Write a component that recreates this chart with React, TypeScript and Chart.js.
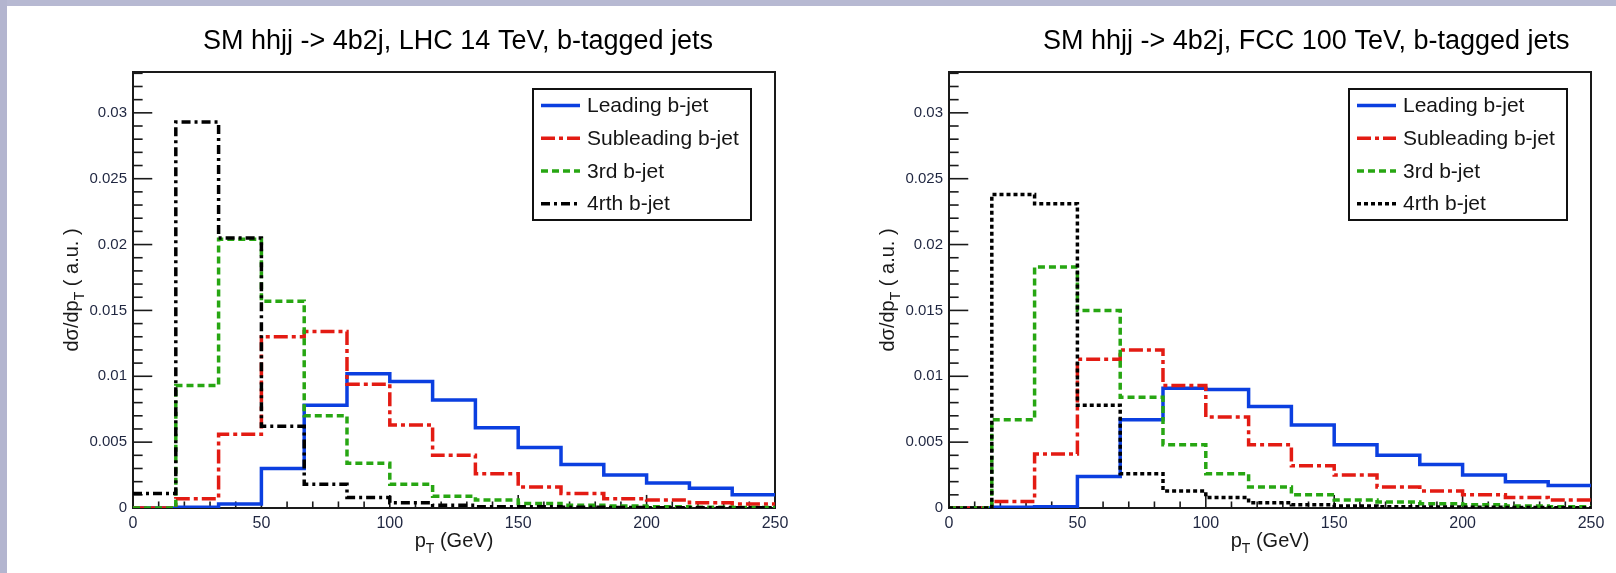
import React, { useEffect, useRef } from "react";
import { Chart, registerables } from "chart.js";
Chart.register(...registerables);

// ---------------- data ----------------
const binEdges = [0, 16.67, 33.33, 50, 66.67, 83.33, 100, 116.67, 133.33, 150, 166.67, 183.33, 200, 216.67, 233.33, 250];
const xTickValues = [0, 50, 100, 150, 200, 250];
const xTickLabels = ["0", "50", "100", "150", "200", "250"];
const yTickValues = [0, 0.005, 0.01, 0.015, 0.02, 0.025, 0.03];
const yTickLabels = ["0", "0.005", "0.01", "0.015", "0.02", "0.025", "0.03"];
const seriesLabels = ["Leading b-jet", "Subleading b-jet", "3rd b-jet", "4rth b-jet"];

const lhcTitle = "SM hhjj -> 4b2j, LHC 14 TeV, b-tagged jets";
const fccTitle = "SM hhjj -> 4b2j, FCC 100 TeV, b-tagged jets";

const lhcLeading = [0, 0.00005, 0.0003, 0.0030, 0.0078, 0.0102, 0.0096, 0.0082, 0.0061, 0.0046, 0.0033, 0.0025, 0.0019, 0.0015, 0.0010];
const lhcSubleading = [0, 0.0007, 0.0056, 0.0130, 0.0134, 0.0094, 0.0063, 0.0040, 0.0026, 0.0016, 0.0011, 0.0007, 0.0006, 0.0004, 0.0003];
const lhcThird = [0, 0.0093, 0.0204, 0.0157, 0.0070, 0.0034, 0.0018, 0.0009, 0.0006, 0.00035, 0.0002, 0.00015, 0.0001, 0.00005, 0.00003];
const lhcFourth = [0.0011, 0.0293, 0.0205, 0.0062, 0.0018, 0.0008, 0.0004, 0.0002, 0.0001, 0.0001, 0.00005, 0.00003, 0.00002, 0.00001, 0.00001];

const fccLeading = [0, 0.00005, 0.0001, 0.0024, 0.0067, 0.0091, 0.0090, 0.0077, 0.0063, 0.0048, 0.0040, 0.0033, 0.0025, 0.0020, 0.0017];
const fccSubleading = [0, 0.0005, 0.0041, 0.0113, 0.0120, 0.0093, 0.0069, 0.0048, 0.0032, 0.0025, 0.0016, 0.0013, 0.0010, 0.0008, 0.0006];
const fccThird = [0, 0.0067, 0.0183, 0.0150, 0.0084, 0.0048, 0.0026, 0.0016, 0.0010, 0.0006, 0.00046, 0.00033, 0.00025, 0.00015, 0.0001];
const fccFourth = [0, 0.0238, 0.0231, 0.0078, 0.0026, 0.0013, 0.0008, 0.0004, 0.00025, 0.00015, 0.0001, 0.00008, 0.00005, 0.00003, 0.00002];

// ---------------- style ----------------
const FONT = '"Liberation Sans", Arial, Helvetica, sans-serif';
const colors = ["#0b3fe0", "#e31b13", "#27a612", "#000000"];
const TICK_COLOR = "#1f2640";

function toSteps(values: number[]) {
  return binEdges.map((x, i) => ({ x, y: values[Math.min(i, values.length - 1)] }));
}

type Part = { t: string; sub?: boolean };

function drawParts(ctx: CanvasRenderingContext2D, parts: Part[], size: number, cx: number, baseY: number) {
  const widths = parts.map((p) => {
    ctx.font = `${p.sub ? Math.round(size * 0.7) : size}px ${FONT}`;
    return ctx.measureText(p.t).width;
  });
  const total = widths.reduce((a, b) => a + b, 0);
  let x = cx - total / 2;
  parts.forEach((p, i) => {
    ctx.font = `${p.sub ? Math.round(size * 0.7) : size}px ${FONT}`;
    ctx.fillText(p.t, x, p.sub ? baseY + size * 0.32 : baseY);
    x += widths[i];
  });
}

const rootPlugin = {
  id: "rootStyle",
  beforeDatasetsDraw(chart: any) {
    const { ctx, chartArea: a, scales } = chart;
    const xs = scales.x;
    const ys = scales.y;
    ctx.save();
    ctx.strokeStyle = "#1a1a1a";
    ctx.lineWidth = 1.6;
    const xMajor = 0.03 * (a.bottom - a.top);
    for (let v = 0; v <= 250; v += 10) {
      const px = xs.getPixelForValue(v);
      const len = v % 50 === 0 ? xMajor : xMajor / 2;
      ctx.beginPath();
      ctx.moveTo(px, a.bottom);
      ctx.lineTo(px, a.bottom - len);
      ctx.stroke();
    }
    const yMajor = 0.03 * (a.right - a.left);
    for (let k = 0; k <= 40; k++) {
      const py = ys.getPixelForValue(k * 0.001);
      if (py < a.top) break;
      const len = k % 5 === 0 ? yMajor : yMajor / 2;
      ctx.beginPath();
      ctx.moveTo(a.left, py);
      ctx.lineTo(a.left + len, py);
      ctx.stroke();
    }
    ctx.lineWidth = 2;
    ctx.strokeRect(a.left, a.top, a.right - a.left, a.bottom - a.top);
    ctx.restore();
  },
  afterDatasetsDraw(chart: any, _args: any, opts: any) {
    const { ctx, chartArea: a } = chart;
    const bx = a.left + 400;
    const by = a.top + 17;
    const bw = 218;
    const bh = opts.legendH;
    ctx.save();
    ctx.fillStyle = "#ffffff";
    ctx.fillRect(bx, by, bw, bh);
    ctx.strokeStyle = "#111";
    ctx.lineWidth = 2;
    ctx.strokeRect(bx, by, bw, bh);
    const ds = chart.data.datasets;
    const rowH = bh / ds.length;
    ds.forEach((d: any, i: number) => {
      const cy = by + rowH * (i + 0.5);
      ctx.strokeStyle = d.borderColor;
      ctx.lineWidth = d.borderWidth;
      ctx.setLineDash(d.borderDash || []);
      ctx.beginPath();
      ctx.moveTo(bx + 8, cy);
      ctx.lineTo(bx + 47, cy);
      ctx.stroke();
      ctx.setLineDash([]);
      ctx.fillStyle = "#151515";
      ctx.font = `21px ${FONT}`;
      ctx.textBaseline = "middle";
      ctx.textAlign = "left";
      ctx.fillText(d.label, bx + 54, cy + 1);
    });
    ctx.restore();
  },
  afterDraw(chart: any, _args: any, opts: any) {
    const { ctx, chartArea: a } = chart;
    ctx.save();
    ctx.fillStyle = "#000";
    ctx.textBaseline = "alphabetic";
    ctx.textAlign = "left";
    ctx.font = `27px ${FONT}`;
    ctx.fillText(opts.title, opts.titleLeft, 49);
    // x title
    ctx.fillStyle = "#1a1a1a";
    drawParts(ctx, [{ t: "p" }, { t: "T", sub: true }, { t: " (GeV)" }], 20, (a.left + a.right) / 2, 547);
    // y title
    ctx.translate(a.left - 55, (a.top + a.bottom) / 2);
    ctx.rotate(-Math.PI / 2);
    drawParts(ctx, [{ t: "dσ/dp" }, { t: "T", sub: true }, { t: " ( a.u. )" }], 20, 0, 0);
    ctx.restore();
  },
};

function makeConfig(title: string, titleLeft: number, legendH: number, series: number[][], dashes: number[][]) {
  return {
    type: "line",
    data: {
      datasets: series.map((vals, i) => ({
        label: seriesLabels[i],
        data: toSteps(vals),
        borderColor: colors[i],
        backgroundColor: colors[i],
        borderWidth: 3.5,
        borderDash: dashes[i],
        stepped: true,
        pointRadius: 0,
        fill: false,
        order: 3 - i,
      })),
    },
    options: {
      responsive: false,
      animation: false,
      devicePixelRatio: 1,
      layout: { padding: { left: 73, right: 25, top: 72, bottom: 25 } },
      plugins: {
        legend: { display: false },
        tooltip: { enabled: false },
        rootStyle: { title, titleLeft, legendH },
      },
      scales: {
        x: {
          type: "linear",
          min: 0,
          max: 250,
          grid: { display: false, drawTicks: false },
          border: { display: false },
          afterBuildTicks: (s: any) => {
            s.ticks = xTickValues.map((v) => ({ value: v }));
          },
          afterFit: (s: any) => {
            s.height = 40;
          },
          ticks: {
            autoSkip: false,
            maxRotation: 0,
            padding: 6,
            color: TICK_COLOR,
            font: { family: FONT, size: 16 },
            callback: (_v: any, i: number) => xTickLabels[i],
          },
        },
        y: {
          type: "linear",
          min: 0,
          max: 0.0331,
          grid: { display: false, drawTicks: false },
          border: { display: false },
          afterBuildTicks: (s: any) => {
            s.ticks = yTickValues.map((v) => ({ value: v }));
          },
          afterFit: (s: any) => {
            s.width = 60;
          },
          ticks: {
            autoSkip: false,
            padding: 6,
            color: TICK_COLOR,
            font: { family: FONT, size: 15 },
            callback: (_v: any, i: number) => yTickLabels[i],
          },
        },
      },
    },
    plugins: [rootPlugin],
  } as any;
}

function Panel({ left, config }: { left: number; config: () => any }) {
  const ref = useRef<HTMLCanvasElement>(null);
  useEffect(() => {
    const chart = new Chart(ref.current!, config());
    return () => chart.destroy();
  }, []);
  return (
    <canvas
      ref={ref}
      width={800}
      height={573}
      style={{ position: "absolute", left, top: 0, width: 800, height: 573 }}
    />
  );
}

export default function App() {
  return (
    <div style={{ position: "fixed", left: 0, top: 0, width: 1616, height: 573, background: "#ffffff", overflow: "hidden" }}>
      <div style={{ position: "absolute", left: 0, top: 0, width: 1616, height: 6, background: "#b7b9d2" }} />
      <div style={{ position: "absolute", left: 0, top: 0, width: 7, height: 573, background: "#b3b5cf" }} />
      <Panel
        left={0}
        config={() =>
          makeConfig(lhcTitle, 203, 131, [lhcLeading, lhcSubleading, lhcThird, lhcFourth], [[], [14, 4, 4, 4], [7, 4], [9, 4, 3, 4]])
        }
      />
      <Panel
        left={816}
        config={() =>
          makeConfig(fccTitle, 227, 131, [fccLeading, fccSubleading, fccThird, fccFourth], [[], [14, 4, 4, 4], [7, 4], [4, 3]])
        }
      />
    </div>
  );
}
